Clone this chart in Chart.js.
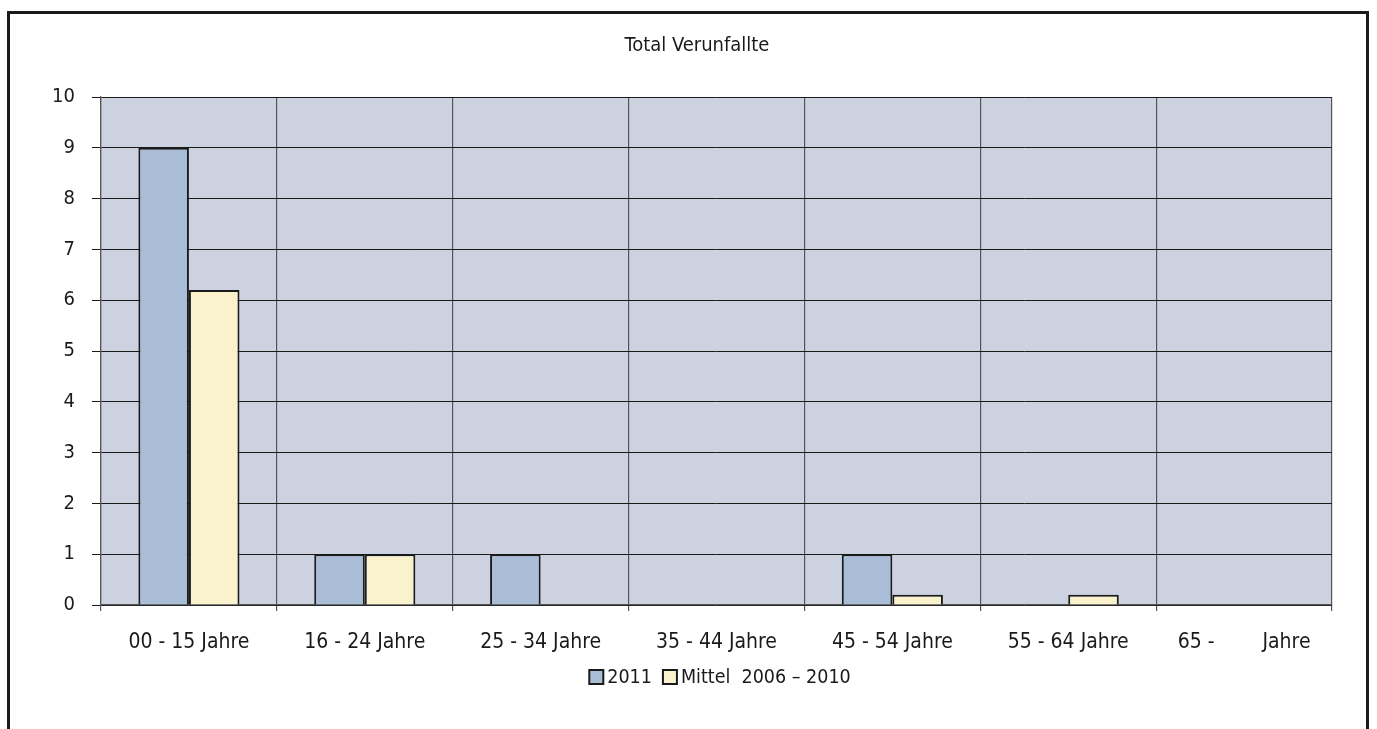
<!DOCTYPE html>
<html>
<head>
<meta charset="utf-8">
<script src="https://cdn.jsdelivr.net/npm/chart.js@4/dist/chart.umd.min.js"></script>
<style>
  html, body { margin: 0; padding: 0; background: #fff; overflow: hidden; }
  #frame { position: absolute; left: 7px; top: 11px; width: 1356px; height: 800px; border: 3px solid #1a1a1a; }
  #wrap { position: absolute; left: 0; top: 0; width: 1377px; height: 729px; }
</style>
</head>
<body>
<div id="frame"></div>
<div id="wrap"><canvas id="chart"></canvas></div>
<script>
// data
const categories = ["00 - 15 Jahre", "16 - 24 Jahre", "25 - 34 Jahre", "35 - 44 Jahre", "45 - 54 Jahre", "55 - 64 Jahre", "65 -        Jahre"];
const values2011 = [9, 1, 1, 0, 1, 0, 0];
const valuesMittel = [6.2, 1, 0, 0, 0.2, 0.2, 0];
const yTicks = [0, 1, 2, 3, 4, 5, 6, 7, 8, 9, 10];
const chartTitle = "Total Verunfallte";
const seriesNames = ["2011", "Mittel  2006 \u2013 2010"];

const FONT = "'Liberation Sans Narrow', 'DejaVu Sans Condensed', sans-serif";

// zero bars are not drawn at all in the original (no border stub on the baseline)
const noZero = arr => arr.map(v => (v === 0 ? null : v));

// plot background + title + legend drawn by hand so they sit where the original has them
const decor = {
    id: "decor",
    beforeDraw(chart) {
        const a = chart.chartArea, ctx = chart.ctx;
        ctx.save();
        ctx.fillStyle = "#cdd2e0";
        ctx.fillRect(a.left, a.top, a.right - a.left, a.bottom - a.top);
        ctx.restore();
    },
    afterDraw(chart) {
        const ctx = chart.ctx;
        ctx.save();
        ctx.fillStyle = "#1a1a1a";
        ctx.font = "20px " + FONT;
        ctx.textAlign = "center";
        ctx.textBaseline = "middle";
        ctx.fillText(chartTitle, 697, 46);

        // legend
        ctx.font = "19.5px " + FONT;
        ctx.textAlign = "left";
        const box = 14, gap = 4, between = 11, y = 677;
        const items = chart.data.datasets.map(d => ({ label: d.label, color: d.backgroundColor, w: ctx.measureText(d.label).width }));
        let total = 0;
        items.forEach((it, i) => { total += box + gap + it.w + (i ? between : 0); });
        let x = 720 - total / 2;
        items.forEach((it, i) => {
            if (i) x += between;
            ctx.fillStyle = it.color;
            ctx.fillRect(x, y - box / 2, box, box);
            ctx.lineWidth = 2;
            ctx.strokeStyle = "#1a1a1a";
            ctx.strokeRect(x, y - box / 2, box, box);
            x += box + gap;
            ctx.fillStyle = "#1a1a1a";
            ctx.fillText(it.label, x, y + 1);
            x += it.w;
        });
        ctx.restore();
    }
};

const ctx = document.getElementById("chart").getContext("2d");
new Chart(ctx, {
    type: "bar",
    data: {
        labels: categories,
        datasets: [
            { label: seriesNames[0], data: noZero(values2011), backgroundColor: "#a9bdd7", borderColor: "#1a1a1a", borderWidth: 2 },
            { label: seriesNames[1], data: noZero(valuesMittel), backgroundColor: "#faf2cc", borderColor: "#1a1a1a", borderWidth: 2 }
        ]
    },
    options: {
        responsive: true,
        maintainAspectRatio: false,
        animation: false,
        layout: { padding: { left: 0, right: 45, top: 97, bottom: 74 } },
        plugins: {
            legend: { display: false },
            title: { display: false },
            tooltip: { enabled: false }
        },
        datasets: { bar: { categoryPercentage: 0.575, barPercentage: 1.0 } },
        scales: {
            x: {
                afterFit: s => { s.height = 50; },
                grid: { offset: true, color: "#555", lineWidth: 1.2, tickLength: 6, drawOnChartArea: true },
                border: { color: "#555", width: 1.2 },
                ticks: { color: "#1a1a1a", padding: 19, font: { family: FONT, size: 21 }, maxRotation: 0, autoSkip: false }
            },
            y: {
                min: 0,
                max: 10,
                afterFit: s => { s.width = 101; },
                afterBuildTicks: s => { s.ticks = yTicks.map(v => ({ value: v })); },
                grid: { color: "#1a1a1a", lineWidth: 1, tickLength: 9 },
                border: { color: "#555", width: 1.2 },
                ticks: { color: "#1a1a1a", padding: 17, font: { family: FONT, size: 20 } }
            }
        }
    },
    plugins: [decor]
});
</script>
</body>
</html>
